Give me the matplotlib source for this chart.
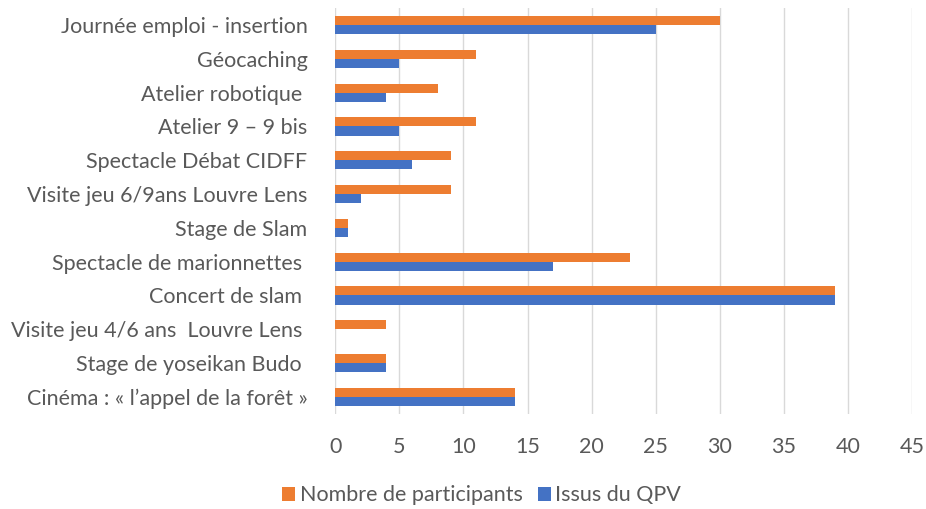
import matplotlib.pyplot as plt
import numpy as np

plt.rcParams.update({"font.family": ["Lato", "DejaVu Sans"], "font.size": 15.5})

categories = [
    "Journée emploi - insertion",
    "Géocaching",
    "Atelier robotique ",
    "Atelier 9 – 9 bis",
    "Spectacle Débat CIDFF",
    "Visite jeu 6/9ans Louvre Lens",
    "Stage de Slam",
    "Spectacle de marionnettes ",
    "Concert de slam ",
    "Visite jeu 4/6 ans  Louvre Lens ",
    "Stage de yoseikan Budo ",
    "Cinéma : « l’appel de la forêt »",
]
participants = [30, 11, 8, 11, 9, 9, 1, 23, 39, 4, 4, 14]
qpv = [25, 5, 4, 5, 6, 2, 1, 17, 39, 0, 4, 14]
xticks = np.arange(0, 50, 5)

ORANGE = "#ED7D31"
BLUE = "#4472C4"
TEXT = "#595959"

fig = plt.figure(figsize=(9.26, 5.09), dpi=100)
ax = fig.add_axes([0.362, 0.187, 0.623, 0.797])

y = np.arange(len(categories))[::-1]
h = 0.27
ax.barh(y + h / 2, participants, h, color=ORANGE, label="Nombre de participants", zorder=3)
ax.barh(y - h / 2, qpv, h, color=BLUE, label="Issus du QPV", zorder=3)

ax.set_xlim(0, 45)
ax.set_ylim(-0.5, len(categories) - 0.5)
ax.set_xticks(xticks)
ax.set_yticks(y)
ax.set_yticklabels(categories)
ax.tick_params(length=0, colors=TEXT, labelsize=15.5)
ax.tick_params(axis="x", pad=17)
ax.tick_params(axis="y", pad=20)
ax.grid(True, axis="x", color="#D9D9D9", lw=1, zorder=0)
for s in ax.spines.values():
    s.set_visible(False)

fig.legend(loc="center", bbox_to_anchor=(0.52, 0.027), ncol=2, frameon=False,
           handlelength=0.6, handleheight=0.6, handletextpad=0.2, columnspacing=0.7,
           labelcolor=TEXT, fontsize=15.5)

fig.savefig("out.png", dpi=100)
